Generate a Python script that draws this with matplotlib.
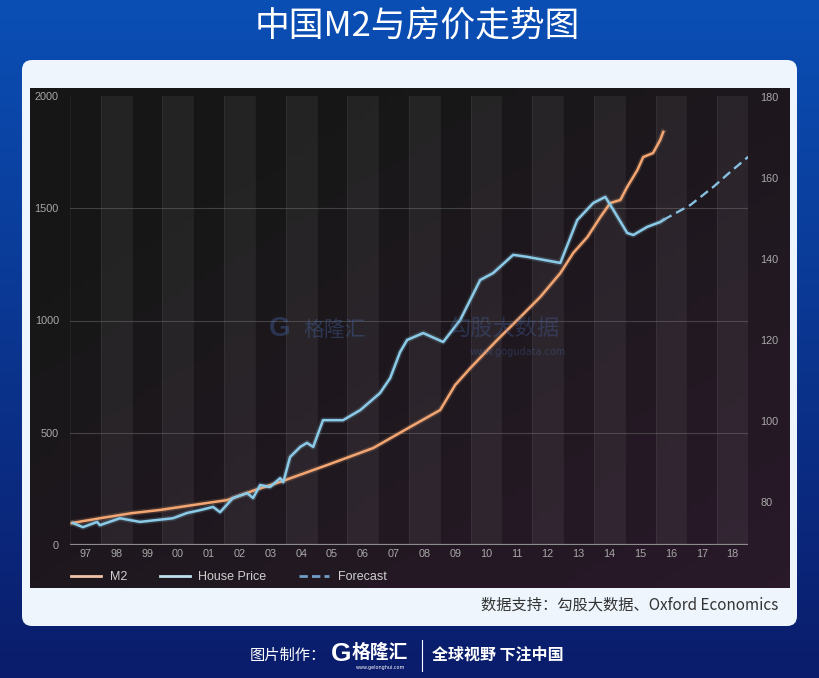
import numpy as np
import matplotlib.pyplot as plt
from matplotlib.patches import FancyBboxPatch
from matplotlib.lines import Line2D

plt.rcParams['font.family'] = ['Noto Sans CJK SC', 'DejaVu Sans']

# M2 index (left axis)
m2_year = [1997.06, 1998.01, 1999.01, 1999.92, 2000.99, 2002.10, 2003.01, 2003.82,
           2005.34, 2006.84, 2008.04, 2009.01, 2009.50, 2009.99, 2010.86, 2011.61,
           2012.26, 2012.91, 2013.33, 2013.79, 2014.21, 2014.53, 2014.86, 2015.08,
           2015.41, 2015.60, 2015.92, 2016.15, 2016.25]
m2_val = [98, 120, 142, 156, 178, 200, 245, 281, 356, 432, 526, 601, 713, 788,
          913, 1015, 1105, 1211, 1301, 1372, 1461, 1523, 1537, 1595, 1670, 1728,
          1746, 1804, 1840]

# house price index (right axis)
hp_year = [1997.10, 1997.42, 1997.88, 1997.97, 1998.62, 1999.27, 2000.34, 2000.80,
           2001.22, 2001.64, 2001.87, 2002.29, 2002.75, 2002.94, 2003.17, 2003.49,
           2003.82, 2003.92, 2004.14, 2004.47, 2004.69, 2004.89, 2005.21, 2005.86,
           2006.42, 2007.06, 2007.39, 2007.71, 2007.94, 2008.46, 2009.11, 2009.66,
           2010.31, 2010.73, 2011.38, 2011.84, 2012.91, 2013.46, 2013.98, 2014.37,
           2014.63, 2015.08, 2015.28, 2015.73, 2016.15, 2016.25]
hp_val = [74.8, 73.8, 75.1, 74.3, 76.0, 75.1, 76.0, 77.3, 78.0, 78.8, 77.5, 81.0,
          82.2, 81.0, 84.2, 83.7, 85.9, 84.9, 91.1, 93.6, 94.6, 93.6, 100.2, 100.2,
          102.7, 106.9, 110.6, 117.0, 120.0, 121.7, 119.5, 124.9, 134.8, 136.5,
          141.0, 140.5, 139.0, 149.6, 153.8, 155.3, 152.1, 146.4, 145.9, 147.9,
          149.1, 149.6]

fc_year = [2016.25, 2017.13, 2017.88, 2018.43, 2019.01]
fc_val = [149.6, 153.3, 157.8, 161.5, 165.2]

years = list(range(1997, 2019))
year_labels = ['%02d' % (y % 100) for y in years]
left_ticks = [0, 500, 1000, 1500, 2000]
right_ticks = [80, 100, 120, 140, 160, 180]

W, H = 820, 678
fig = plt.figure(figsize=(8.2, 6.78), dpi=100)

# page background
bg = fig.add_axes([0, 0, 1, 1])
bg.set_xlim(0, W)
bg.set_ylim(H, 0)
bg.axis('off')
g = np.linspace(0, 1, 256)[:, None, None]
top = np.array([0.04, 0.31, 0.71])
bot = np.array([0.04, 0.11, 0.42])
bg.imshow(top * (1 - g) + bot * g, extent=(0, W, H, 0), aspect='auto', zorder=0)

bg.add_patch(FancyBboxPatch((22, 60), 775, 566, boxstyle='round,pad=0,rounding_size=10',
                            fc='#eef5fd', ec='none', zorder=1))

# dark photo area
yy, xx = np.mgrid[0:1:60j, 0:1:100j]
t = np.clip(0.55 * xx + 0.6 * yy - 0.25, 0, 1)[:, :, None]
c0 = np.array([0.09, 0.09, 0.09])
c1 = np.array([0.17, 0.10, 0.17])
bg.imshow(c0 * (1 - t) + c1 * t, extent=(30, 790, 588, 88), aspect='auto', zorder=2)

bg.text(417, 27, '中国M2与房价走势图', color='white', fontsize=25, fontweight='medium',
        ha='center', va='center', zorder=3)
bg.text(778, 605, '数据支持：勾股大数据、Oxford Economics', color='#333333', fontsize=11,
        ha='right', va='center', zorder=3)

# footer
bg.text(250, 655, '图片制作：', color='white', fontsize=11, ha='left', va='center', zorder=3)
bg.text(341, 654, 'G', color='white', fontsize=19, fontweight='bold', family='Liberation Sans',
        ha='center', va='center', zorder=3)
bg.text(380, 652, '格隆汇', color='white', fontsize=13.5, fontweight='bold',
        ha='center', va='center', zorder=3)
bg.text(380, 667, 'www.gelonghui.com', color='white', fontsize=3.5, family='DejaVu Sans',
        ha='center', va='center', zorder=3)
bg.plot([422, 422], [640, 671], color='white', lw=0.8, zorder=3)
bg.text(432, 655, '全球视野 下注中国', color='white', fontsize=11.5, fontweight='bold',
        ha='left', va='center', zorder=3)

# chart
ax = fig.add_axes([70 / W, (H - 545) / H, 678 / W, 449 / H])
ax.set_facecolor('none')
ax.set_xlim(1997, 2019)
ax.set_ylim(0, 2000)
for yr in years:
    if yr % 2 == 0:
        ax.axvspan(yr, yr + 1, color='white', alpha=0.06, lw=0, zorder=0)
    ax.axvline(yr, color='white', alpha=0.05, lw=0.8, zorder=0)
for v in [500, 1000, 1500]:
    ax.axhline(v, color='#777777', lw=0.8, alpha=0.45, zorder=1)
ax.axhline(0, color='#8c8c8c', lw=1.6, zorder=1)

for s in ax.spines.values():
    s.set_visible(False)
ax.set_xticks([y + 0.5 for y in years])
ax.set_xticklabels(year_labels, family='Liberation Sans')
ax.set_yticks(left_ticks)
ax.set_yticklabels([str(v) for v in left_ticks], family='Liberation Sans')
ax.tick_params(axis='both', length=0, labelsize=7.8, labelcolor='#a8a8a8')
ax.tick_params(axis='y', pad=8)
ax.tick_params(axis='x', pad=3)

# soft glow under the lines, like the photographed screen
ax.plot(m2_year, m2_val, color='#f3a672', lw=4, alpha=0.18, zorder=2)
ax.plot(m2_year, m2_val, color='#f3a672', lw=1.8, zorder=3)

ax2 = ax.twinx()
ax2.set_ylim(69.4, 180.2)
for s in ax2.spines.values():
    s.set_visible(False)
ax2.set_yticks(right_ticks)
ax2.set_yticklabels([str(v) for v in right_ticks], family='Liberation Sans')
ax2.tick_params(axis='y', length=0, labelsize=7.8, labelcolor='#a8a8a8', pad=9)

ax2.plot(hp_year, hp_val, color='#8ccbe8', lw=4, alpha=0.18, zorder=2)
ax2.plot(hp_year, hp_val, color='#8ccbe8', lw=1.8, zorder=3)
ax2.plot(fc_year, fc_val, color='#86bfe0', lw=1.7, dashes=(4, 2.2), zorder=3)

handles = [Line2D([], [], color='#f2c2a8', lw=2),
           Line2D([], [], color='#bfe0ee', lw=2),
           Line2D([], [], color='#6f9fc8', lw=2, dashes=(3, 1.5))]
ax2.legend(handles, ['M2', 'House Price', 'Forecast'], loc='center left',
           bbox_to_anchor=(0.0015, -0.071), ncol=3, frameon=False,
           prop={'family': 'Liberation Sans', 'size': 9}, labelcolor='#d0d0d0',
           handlelength=2.4, columnspacing=2.6, handletextpad=0.7, borderaxespad=0,
           borderpad=0)

# faint watermark
wm = '#4a6fb8'
ax2.text(0.31, 0.48, 'G', transform=ax.transAxes, color=wm, alpha=0.35, fontsize=20,
         fontweight='bold', family='Liberation Sans', ha='center', va='center')
ax2.text(0.39, 0.48, '格隆汇', transform=ax.transAxes, color=wm, alpha=0.35, fontsize=15,
         ha='center', va='center')
ax2.text(0.64, 0.48, '勾股大数据', transform=ax.transAxes, color=wm, alpha=0.3, fontsize=16,
         ha='center', va='center')
ax2.text(0.66, 0.43, 'www.gogudata.com', transform=ax.transAxes, color=wm, alpha=0.3,
         fontsize=7, family='DejaVu Sans', ha='center', va='center')

fig.savefig('out.png', dpi=100)
